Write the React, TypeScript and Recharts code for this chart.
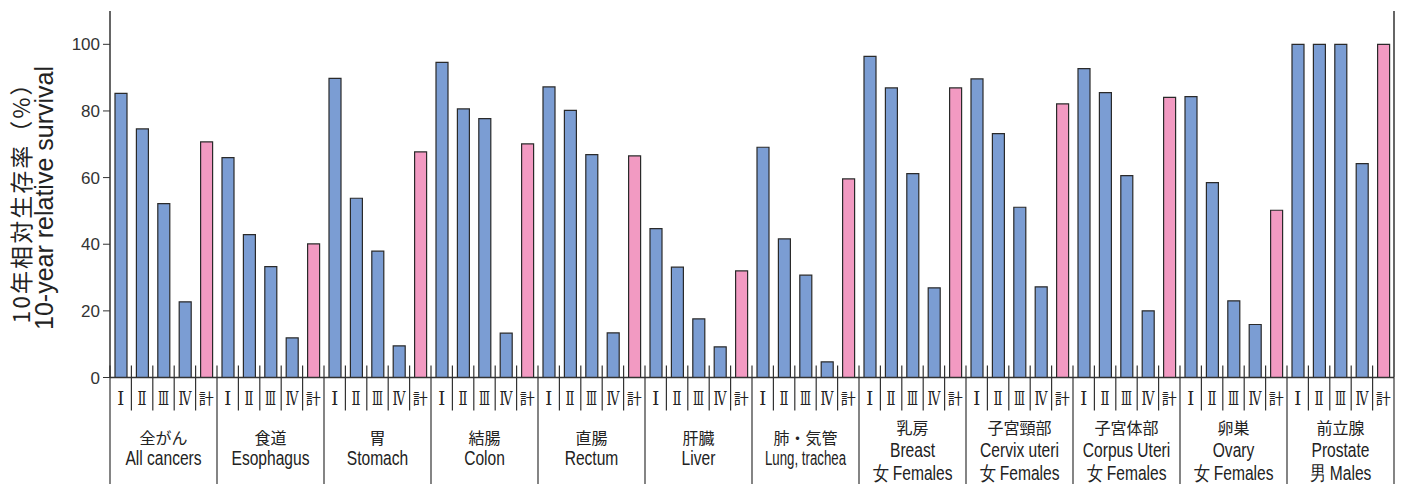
import { BarChart, Bar, XAxis, YAxis, Cell } from 'recharts';

const stages = ['Ⅰ', 'Ⅱ', 'Ⅲ', 'Ⅳ', '計'];
const groupJa = ['全がん', '食道', '胃', '結腸', '直腸', '肝臓', '肺・気管', '乳房', '子宮頸部', '子宮体部', '卵巣', '前立腺'];
const groupEn = ['All cancers', 'Esophagus', 'Stomach', 'Colon', 'Rectum', 'Liver', 'Lung, trachea', 'Breast', 'Cervix uteri', 'Corpus Uteri', 'Ovary', 'Prostate'];
const groupSex = ['', '', '', '', '', '', '', '女 Females', '女 Females', '女 Females', '女 Females', '男 Males'];

const allCancers = [85.3, 74.6, 52.2, 22.7, 70.7];
const esophagus = [66.0, 42.9, 33.3, 11.9, 40.1];
const stomach = [89.8, 53.8, 37.9, 9.5, 67.7];
const colon = [94.6, 80.6, 77.7, 13.3, 70.1];
const rectum = [87.2, 80.2, 66.9, 13.4, 66.5];
const liver = [44.7, 33.1, 17.6, 9.2, 32.0];
const lung = [69.1, 41.6, 30.7, 4.7, 59.6];
const breast = [96.4, 86.9, 61.2, 26.9, 86.9];
const cervix = [89.6, 73.2, 51.1, 27.2, 82.1];
const corpus = [92.7, 85.5, 60.6, 20.0, 84.1];
const ovary = [84.3, 58.5, 23.0, 15.9, 50.2];
const prostate = [100, 100, 100, 64.2, 100];

const yTicks = [0, 20, 40, 60, 80, 100];

const groupValues = [allCancers, esophagus, stomach, colon, rectum, liver, lung, breast, cervix, corpus, ovary, prostate];

const data = groupValues.flatMap((vals, g) =>
  vals.map((v, s) => ({ id: `${g}-${s}`, group: g, stage: s, value: v }))
);

const W = 1405;
const H = 484;
const LEFT = 110;
const RIGHT = 11;
const SLOT = (W - LEFT - RIGHT) / data.length;

const BLUE = '#7b9dd3';
const PINK = '#f29ac2';
const INK = '#333';
const LATIN = '"Liberation Sans", Arial, sans-serif';
const CJK = '"Noto Sans CJK JP", sans-serif';
const romanWidth: Record<string, number> = { 'Ⅰ': 7, 'Ⅱ': 9, 'Ⅲ': 11, 'Ⅳ': 13 };

// narrow latin text: the original uses a condensed face
function Narrow({ x, y, size, sx = 0.8, children }: { x: number; y: number; size: number; sx?: number; children: any }) {
  return (
    <text transform={`translate(${x} ${y}) scale(${sx} 1)`} x={0} y={0} textAnchor="middle" fontFamily={LATIN} fontSize={size} fill="#222">
      {children}
    </text>
  );
}

function StageTick(props: any) {
  const { x, y, payload } = props;
  const row = data.find((d) => d.id === payload.value);
  if (!row) return null;
  const label = stages[row.stage];
  const first = row.stage === 0;
  const last = row.stage === stages.length - 1 && row.group === groupJa.length - 1;
  const sex = groupSex[row.group];
  const en = groupEn[row.group];
  return (
    <g>
      <line x1={x - SLOT / 2} x2={x - SLOT / 2} y1={y - 12} y2={first ? H : y + 33} stroke={INK} strokeWidth={1.2} />
      {last && <line x1={x + SLOT / 2} x2={x + SLOT / 2} y1={y} y2={H} stroke={INK} strokeWidth={1.2} />}
      {label === '計' ? (
        <text x={x} y={y + 26} textAnchor="middle" fontFamily={CJK} fontSize={15} fill="#222">
          {label}
        </text>
      ) : (
        <text
          x={x}
          y={y + 27}
          textAnchor="middle"
          fontFamily='"DejaVu Serif", "Liberation Serif", serif'
          fontSize={18}
          fill="#222"
          textLength={romanWidth[label]}
          lengthAdjust="spacingAndGlyphs"
        >
          {label}
        </text>
      )}
      {row.stage === 2 && (
        <g>
          <text x={x} y={y + (sex ? 56 : 66)} textAnchor="middle" fontFamily={CJK} fontSize={16} fill="#222">
            {groupJa[row.group]}
          </text>
          <Narrow x={x} y={y + (sex ? 79 : 87)} size={19.5} sx={en.length > 12 ? 0.68 : 0.8}>
            {en}
          </Narrow>
          {sex && (
            <Narrow x={x} y={y + 102} size={19.5}>
              {sex}
            </Narrow>
          )}
        </g>
      )}
    </g>
  );
}

function YTitle() {
  return (
    <g fill="#222">
      <text
        transform="translate(30,198) rotate(-90)"
        textAnchor="middle"
        fontFamily={CJK}
        fontSize={23}
        textLength={251}
        lengthAdjust="spacing"
      >
        10年相対生存率（%）
      </text>
      <text transform="translate(53,198) rotate(-90)" textAnchor="middle" fontFamily={LATIN} fontSize={25}>
        10-year relative survival
      </text>
    </g>
  );
}

export default function App() {
  return (
    <div style={{ position: 'absolute', left: 0, top: 0, width: W, height: H, background: '#fff' }}>
      <BarChart width={W} height={H} data={data} margin={{ top: 11, right: 0, left: 0, bottom: 0 }} barSize={12}>
        <XAxis
          dataKey="id"
          interval={0}
          height={106.5}
          tickSize={0}
          tickMargin={0}
          tickLine={false}
          axisLine={{ stroke: INK, strokeWidth: 1.5 }}
          tick={<StageTick />}
        />
        <XAxis xAxisId="top" dataKey="id" orientation="top" height={0} tick={false} tickLine={false} axisLine={{ stroke: INK, strokeWidth: 1.5 }} />
        <YAxis
          domain={[0, 110]}
          ticks={yTicks}
          width={LEFT}
          tickSize={7}
          tickMargin={3}
          tickLine={{ stroke: INK }}
          axisLine={{ stroke: INK, strokeWidth: 1.5 }}
          tick={{ fill: INK, fontSize: 17, fontFamily: LATIN }}
          label={{ content: () => <YTitle /> }}
        />
        <YAxis yAxisId="right" orientation="right" domain={[0, 110]} width={RIGHT} tick={false} tickLine={false} axisLine={{ stroke: INK, strokeWidth: 1.5 }} />
        <Bar dataKey="value" isAnimationActive={false} stroke="#2a2a2a" strokeWidth={1.2}>
          {data.map((d) => (
            <Cell key={d.id} fill={d.stage === stages.length - 1 ? PINK : BLUE} />
          ))}
        </Bar>
      </BarChart>
    </div>
  );
}
